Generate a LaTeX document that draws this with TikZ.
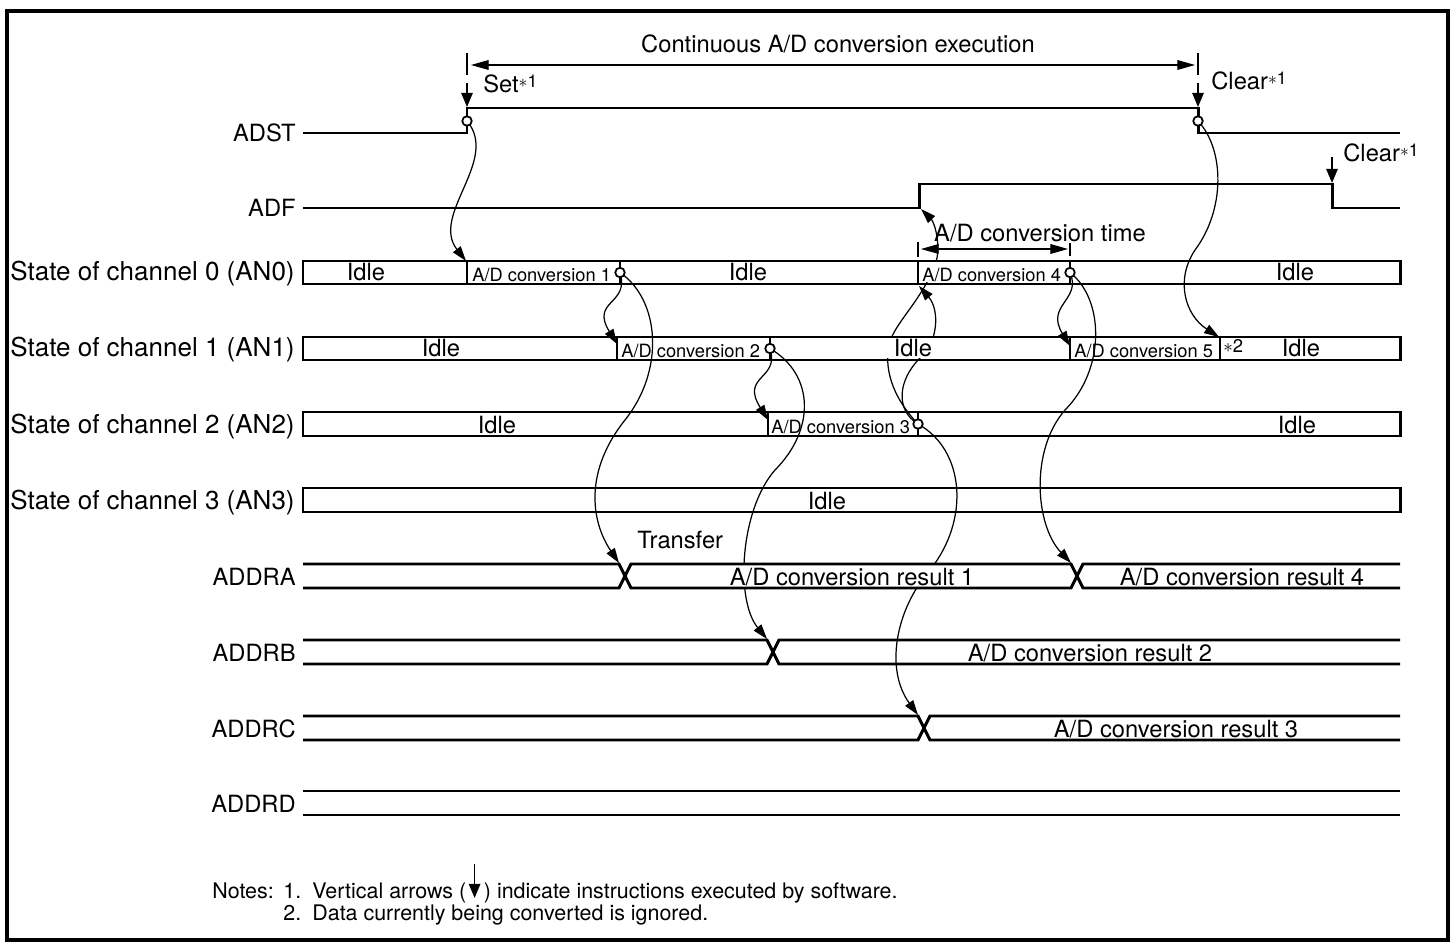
\documentclass[tikz,border=0pt]{standalone}
\usepackage{fontspec}
\setmainfont{TeX Gyre Heros}
\usepackage{tikz}
\usetikzlibrary{arrows.meta,calc}

\newcommand{\lblfont}{\fontsize{13.5}{16}\selectfont}
\newcommand{\chfont}{\fontsize{14.8}{17}\selectfont}
\newcommand{\smlfont}{\fontsize{10.4}{12}\selectfont}
\newcommand{\notefont}{\fontsize{12.2}{14}\selectfont}
\newcommand{\sref}[1]{\raisebox{3.2pt}{\fontsize{10}{10}\selectfont$\ast$#1}}

\begin{document}
\begin{tikzpicture}[
    x=0.2mm, y=-0.2mm,
    sig/.style={line width=1.7pt, line join=miter},
    chbar/.style={line width=1.7pt},
    divider/.style={line width=1.1pt},
    thindiv/.style={line width=0.6pt},
    flow/.style={line width=0.7pt, -{Triangle[length=8.5pt,width=5.5pt]}},
    cmd/.style={line width=0.8pt, -{Triangle[length=8pt,width=6.5pt]}},
    dimline/.style={line width=0.6pt, {Triangle[length=10pt,width=5.5pt]}-{Triangle[length=10pt,width=5.5pt]}},
    dimtick/.style={line width=0.6pt},
    ring/.style={circle, draw, fill=white, line width=1pt, minimum size=1.9mm, inner sep=0pt},
    hider/.style={fill=white},
    lbl/.style={font=\lblfont, inner sep=0pt},
    chlbl/.style={font=\chfont, inner sep=0pt},
    sml/.style={font=\smlfont, inner sep=0pt},
    note/.style={font=\notefont, inner sep=0pt}
]

% --- Frame ---
\useasboundingbox (0,0) rectangle (1455,944);
\draw[line width=2.3pt] (7,11) rectangle (1448,940);

% --- Event points ---
\coordinate (setP) at (467,121);
\coordinate (clrP) at (1198,121);
\coordinate (end1) at (620,272.5);
\coordinate (end2) at (770,348.5);
\coordinate (end3) at (918,424);
\coordinate (end4) at (1070,272.5);
\coordinate (go1) at (466,261);
\coordinate (go2) at (617,344);
\coordinate (go3) at (768,420);
\coordinate (go4) at (919,286);
\coordinate (go5) at (1070,346);
\coordinate (stop5) at (1219,337);
\coordinate (adfUp) at (921,209);
\coordinate (xa1) at (619,563);
\coordinate (xa4) at (1071,563);
\coordinate (xb2) at (767,639);
\coordinate (xc3) at (918,715);

% --- Curves running behind the bars ---
\draw[flow] (end3) .. controls (900,405) and (885,380) .. (888,350)
                   .. controls (890,325) and (925,300) .. (937,258)
                   .. controls (940,240) and (934,222) .. (adfUp);
\draw[flow] (end3) .. controls (895,410) and (898,380) .. (920,358)
                   .. controls (938,343) and (940,310) .. (go4);
\draw[flow] (end3) .. controls (965,450) and (970,520) .. (930,570)
                   .. controls (895,610) and (885,670) .. (xc3);
\draw[flow] (end2) .. controls (815,375) and (815,430) .. (775,470)
                   .. controls (740,510) and (735,600) .. (xb2);

\fill[hider] (880,338.5) rectangle (945,358.5);
\fill[hider] (919.5,262.5) rectangle (945,282.5);
\fill[hider] (625,576) -- (631,564) -- (1071,564) -- (1077,576) -- (1071,588) -- (631,588) -- cycle;

% --- ADST / ADF ---
\draw[sig] (303,133) -- (467,133) -- (467,108) -- (1198,108) -- (1198,133) -- (1400,133);
\draw[sig] (303,208) -- (919,208) -- (919,184) -- (1332,184) -- (1332,208) -- (1400,208);

% --- Channel states ---
\draw[chbar] (303,261) rectangle (1400,284);
\draw[chbar] (303,337) rectangle (1400,360);
\draw[chbar] (303,412) rectangle (1400,436);
\draw[chbar] (303,488) rectangle (1400,512);

\draw[divider] (467,261) -- (467,284);
\draw[divider] (620,261) -- (620,284);
\draw[divider] (918,261) -- (918,284);
\draw[divider] (1070,261) -- (1070,284);
\draw[divider] (617,337) -- (617,360);
\draw[divider] (770,337) -- (770,360);
\draw[divider] (1070,337) -- (1070,360);
\draw[thindiv] (1220,337) -- (1220,360);
\draw[divider] (768,412) -- (768,436);
\draw[divider] (918,412) -- (918,436);

% --- Data registers ---
\draw[sig] (303,564) -- (619,564) -- (631,588) -- (1071,588) -- (1083,564) -- (1400,564);
\draw[sig] (303,588) -- (619,588) -- (631,564) -- (1071,564) -- (1083,588) -- (1400,588);
\draw[sig] (303,640) -- (767,640) -- (779,664) -- (1400,664);
\draw[sig] (303,664) -- (767,664) -- (779,640) -- (1400,640);
\draw[sig] (303,716) -- (918,716) -- (930,740) -- (1400,740);
\draw[sig] (303,740) -- (918,740) -- (930,716) -- (1400,716);
\draw[sig] (303,791) -- (1400,791);
\draw[sig] (303,815) -- (1400,815);

% --- Signal names ---
\node[lbl, anchor=base east]   (nADST) at (296,142) {ADST};
\node[lbl, anchor=base east]   (nADF)  at (296,217) {ADF};
\node[chlbl, anchor=base east] (nCh0)  at (295,281) {State of channel 0 (AN0)};
\node[chlbl, anchor=base east] (nCh1)  at (295,357) {State of channel 1 (AN1)};
\node[chlbl, anchor=base east] (nCh2)  at (295,433) {State of channel 2 (AN2)};
\node[chlbl, anchor=base east] (nCh3)  at (295,509) {State of channel 3 (AN3)};
\node[lbl, anchor=base east]   (nRegA) at (296,585) {ADDRA};
\node[lbl, anchor=base east]   (nRegB) at (296,661) {ADDRB};
\node[lbl, anchor=base east]   (nRegC) at (296,737) {ADDRC};
\node[lbl, anchor=base east]   (nRegD) at (296,812) {ADDRD};

% --- Texts in the bars ---
\node[lbl, anchor=base] (c0i1) at (366,281) {Idle};
\node[sml, anchor=base west] (c0a1) at (472,282) {A/D conversion 1};
\node[lbl, anchor=base] (c0i2) at (748,281) {Idle};
\node[sml, anchor=base west] (c0a4) at (922,282) {A/D conversion 4};
\node[lbl, anchor=base] (c0i3) at (1295,281) {Idle};
\node[lbl, anchor=base] (c1i1) at (441,357) {Idle};
\node[sml, anchor=base west] (c1a2) at (621,358) {A/D conversion 2};
\node[lbl, anchor=base] (c1i2) at (913,357) {Idle};
\node[sml, anchor=base west] (c1a5) at (1074,358) {A/D conversion 5};
\node[inner sep=0pt, anchor=base west, font=\fontsize{10.5}{11}\selectfont] (c1n2) at (1223,353) {$\ast$2};
\node[lbl, anchor=base] (c1i3) at (1301,357) {Idle};
\node[lbl, anchor=base] (c2i1) at (497,433) {Idle};
\node[sml, anchor=base west] (c2a3) at (771,434) {A/D conversion 3};
\node[lbl, anchor=base] (c2i2) at (1297,433) {Idle};
\node[lbl, anchor=base] (c3i1) at (827,509) {Idle};

\node[lbl, anchor=base] (resA1) at (852,585) {A/D conversion result 1};
\node[lbl, anchor=base] (resA4) at (1242,585) {A/D conversion result 4};
\node[lbl, anchor=base] (resB2) at (1090,661) {A/D conversion result 2};
\node[lbl, anchor=base] (resC3) at (1176,737) {A/D conversion result 3};
\node[lbl, anchor=base west] (xfer) at (637,548) {Transfer};

% --- Dimensions ---
\node[lbl] (runLbl) at (838,44) {Continuous A/D conversion execution};
\coordinate (runL) at (471,65);
\coordinate (runR) at (1195,65);
\draw[dimtick] (467,53) -- (467,75);
\draw[dimtick] (1198,53) -- (1198,75);
\draw[dimline] (runL) -- (runR);

\node[lbl] (timeLbl) at (1040,233) {A/D conversion time};
\coordinate (timeL) at (921,249);
\coordinate (timeR) at (1068,249);
\draw[dimtick] (918,242) -- (918,257);
\draw[dimtick] (1070,243) -- (1070,256);
\draw[dimline] (timeL) -- (timeR);

% --- Software instructions ---
\coordinate (setA) at (467,83);   \coordinate (setB) at (467,107);
\coordinate (clrA) at (1198,83);  \coordinate (clrB) at (1198,107);
\coordinate (adfA) at (1332,157); \coordinate (adfB) at (1332,183);
\draw[cmd] (setA) -- (setB);
\draw[cmd] (clrA) -- (clrB);
\draw[cmd] (adfA) -- (adfB);
\node[lbl, anchor=base west] (setLbl)  at (483,93)   {Set\sref{1}};
\node[lbl, anchor=base west] (clrLbl)  at (1211,90)  {Clear\sref{1}};
\node[lbl, anchor=base west] (clrLbl2) at (1343,162) {Clear\sref{1}};

% --- Curves in front ---
\draw[flow] (setP) .. controls (500,160) and (430,215) .. (go1);
\draw[flow] (end1) .. controls (630,305) and (590,300) .. (go2);
\draw[flow] (end1) .. controls (660,300) and (665,370) .. (625,420)
                   .. controls (585,470) and (590,520) .. (xa1);
\draw[flow] (end2) .. controls (780,380) and (740,375) .. (go3);
\draw[flow] (end4) .. controls (1082,300) and (1045,305) .. (go5);
\draw[flow] (end4) .. controls (1105,300) and (1105,370) .. (1065,410)
                   .. controls (1030,450) and (1035,525) .. (xa4);
\draw[flow] (clrP) .. controls (1225,150) and (1225,210) .. (1195,250)
                   .. controls (1175,280) and (1185,315) .. (stop5);

% --- Rings ---
\node[ring] (setRing) at (setP) {};
\node[ring] (clrRing) at (clrP) {};
\node[ring] (ring1) at (end1) {};
\node[ring] (ring2) at (end2) {};
\node[ring] (ring3) at (end3) {};
\node[ring] (ring4) at (end4) {};

% --- Notes ---
\node[note, anchor=base west] (notesHd) at (212,898) {Notes:};
\node[note, anchor=base west] (note1n)  at (283,898) {1.};
\node[note, anchor=base west] (note1a)  at (312,898) {Vertical arrows (};
\coordinate (noteArrA) at ($(note1a.base east)+(8,-34)$);
\coordinate (noteArrB) at ($(note1a.base east)+(8,0)$);
\draw[cmd] (noteArrA) -- (noteArrB);
\node[note, anchor=base west] (note1b) at ($(note1a.base east)+(17,0)$) {) indicate instructions executed by software.};
\node[note, anchor=base west] (note2n)  at (283,920) {2.};
\node[note, anchor=base west] (note2a)  at (312,920) {Data currently being converted is ignored.};

\end{tikzpicture}
\end{document}
